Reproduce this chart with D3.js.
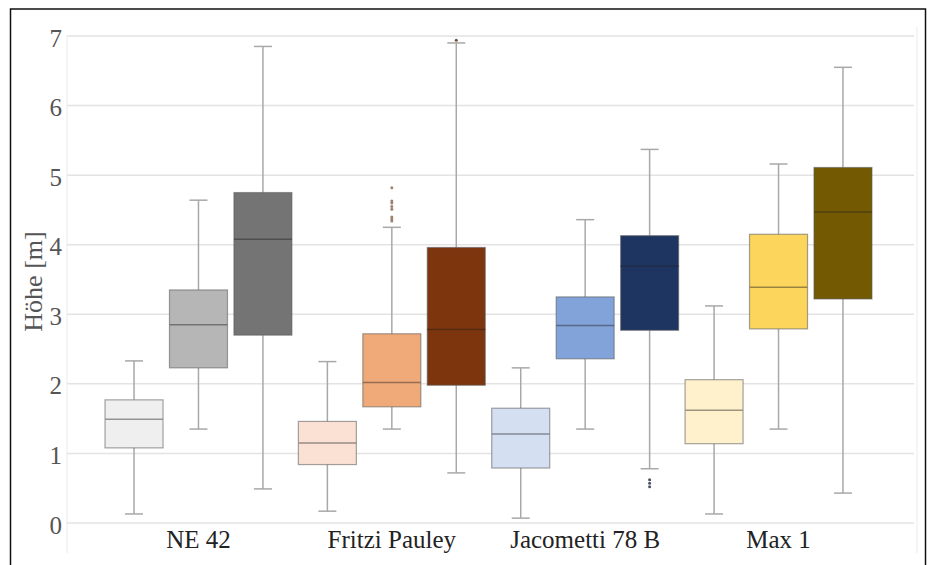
<!DOCTYPE html>
<html>
<head>
<meta charset="utf-8">
<script src="https://cdn.jsdelivr.net/npm/d3@7"></script>
<style>
    body { margin: 0; background: #fff; }
    svg { display: block; font-family: "Liberation Serif", "DejaVu Serif", serif; }
</style>
</head>
<body>
<div id="chart"></div>
<script>
// Data (Höhe in m), one row per group, three boxes per group
const groups = ['NE 42', 'Fritzi Pauley', 'Jacometti 78 B', 'Max 1'];
const series = [0, 1, 2];

const whiskerLow  = [[0.13, 1.35, 0.49], [0.17, 1.35, 0.72], [0.07, 1.35, 0.78], [0.13, 1.35, 0.43]];
const quartile1   = [[1.08, 2.23, 2.70], [0.84, 1.67, 1.98], [0.79, 2.36, 2.77], [1.14, 2.79, 3.22]];
const medians     = [[1.49, 2.85, 4.08], [1.15, 2.02, 2.78], [1.28, 2.84, 3.69], [1.62, 3.39, 4.47]];
const quartile3   = [[1.77, 3.35, 4.75], [1.46, 2.72, 3.96], [1.65, 3.25, 4.13], [2.06, 4.15, 5.11]];
const whiskerHigh = [[2.33, 4.64, 6.85], [2.32, 4.25, 6.90], [2.23, 4.36, 5.37], [3.12, 5.16, 6.55]];

// outliers: [groupIndex, seriesIndex, value]
const outliers = [
    [1, 1, 4.82], [1, 1, 4.63], [1, 1, 4.60], [1, 1, 4.55], [1, 1, 4.51],
    [1, 1, 4.40], [1, 1, 4.37], [1, 1, 4.34],
    [1, 2, 6.94],
    [2, 2, 0.62], [2, 2, 0.57], [2, 2, 0.52]
];

const colors = [
    ['#efefef', '#b6b6b6', '#747474'],
    ['#fae1d4', '#f0aa79', '#7c350d'],
    ['#d4dff1', '#82a3d9', '#1f3561'],
    ['#fff1cb', '#fcd55c', '#735a02']
];

const yTicks = [0, 1, 2, 3, 4, 5, 6, 7];

const width = 928, height = 565;

const svg = d3.select('#chart').append('svg')
    .attr('width', width)
    .attr('height', height);

svg.append('rect')
    .attr('width', width).attr('height', height)
    .attr('fill', '#fff');

// Outer frame (bottom edge runs off the picture)
svg.append('rect')
    .attr('x', 10.5).attr('y', 9)
    .attr('width', 915).attr('height', 600)
    .attr('fill', 'none')
    .attr('stroke', '#111')
    .attr('stroke-width', 1.5);

let plot = { left: 67, right: 914, top: 36, bottom: 523 };

let y = d3.scaleLinear().domain([0, 7]).range([plot.bottom, plot.top]);

let x0 = d3.scaleBand().domain(groups).range([plot.left, 910])
    .paddingInner(0).paddingOuter(0.18);
let x1 = d3.scaleBand().domain(series).range([0, x0.bandwidth()])
    .paddingInner(0.1).paddingOuter(0.05);

// faint panel edges
svg.append('line')
    .attr('x1', plot.left).attr('x2', plot.left)
    .attr('y1', plot.top).attr('y2', 553)
    .attr('stroke', '#eeeeee').attr('stroke-width', 1.2);
svg.append('line')
    .attr('x1', 917).attr('x2', 917)
    .attr('y1', 27).attr('y2', 553)
    .attr('stroke', '#eeeeee').attr('stroke-width', 1.2);

// Gridlines
svg.append('g').attr('class', 'grid')
  .selectAll('line')
    .data(yTicks)
  .enter().append('line')
    .attr('x1', plot.left).attr('x2', plot.right)
    .attr('y1', d => y(d)).attr('y2', d => y(d))
    .attr('stroke', '#e3e3e3')
    .attr('stroke-width', 1.5);

// Y axis
let yAxis = svg.append('g')
    .attr('transform', `translate(${plot.left},0)`)
    .call(d3.axisLeft(y).tickValues(yTicks).tickSize(0).tickPadding(5).tickFormat(d3.format('d')));
yAxis.select('.domain').remove();
yAxis.selectAll('text')
    .attr('dy', '0.4em')
    .style('font-family', '"Liberation Serif", serif')
    .style('font-size', '25px')
    .attr('fill', '#555');

svg.append('text')
    .attr('transform', `translate(42, ${(plot.top + plot.bottom) / 2 + 2}) rotate(-90)`)
    .attr('text-anchor', 'middle')
    .style('font-family', '"Liberation Serif", serif')
    .style('font-size', '26px')
    .attr('fill', '#555')
    .text('Höhe [m]');

// X axis labels
let xAxis = svg.append('g')
    .attr('transform', `translate(0,${plot.bottom})`)
    .call(d3.axisBottom(x0).tickSize(0).tickPadding(7));
xAxis.select('.domain').remove();
xAxis.selectAll('text')
    .style('font-family', '"Liberation Serif", serif')
    .style('font-size', '25px')
    .attr('fill', '#222');

// Flatten box stats for drawing
let boxes = [];
groups.forEach((g, gi) => {
    series.forEach(si => {
        boxes.push({
            group: g, gi: gi, si: si,
            lo: whiskerLow[gi][si], q1: quartile1[gi][si], med: medians[gi][si],
            q3: quartile3[gi][si], hi: whiskerHigh[gi][si],
            fill: colors[gi][si]
        });
    });
});

let bw = x1.bandwidth();
let cx = d => x0(d.group) + x1(d.si) + bw / 2;
let capW = 18;

let boxG = svg.append('g').attr('class', 'boxes')
  .selectAll('g')
    .data(boxes)
  .enter().append('g');

// whisker stems
boxG.append('line')
    .attr('x1', cx).attr('x2', cx)
    .attr('y1', d => y(d.hi)).attr('y2', d => y(d.q3))
    .attr('stroke', '#a8a8a8').attr('stroke-width', 1.5);
boxG.append('line')
    .attr('x1', cx).attr('x2', cx)
    .attr('y1', d => y(d.q1)).attr('y2', d => y(d.lo))
    .attr('stroke', '#a8a8a8').attr('stroke-width', 1.5);

// whisker caps
boxG.append('line')
    .attr('x1', d => cx(d) - capW / 2).attr('x2', d => cx(d) + capW / 2)
    .attr('y1', d => y(d.hi)).attr('y2', d => y(d.hi))
    .attr('stroke', '#a8a8a8').attr('stroke-width', 1.5);
boxG.append('line')
    .attr('x1', d => cx(d) - capW / 2).attr('x2', d => cx(d) + capW / 2)
    .attr('y1', d => y(d.lo)).attr('y2', d => y(d.lo))
    .attr('stroke', '#a8a8a8').attr('stroke-width', 1.5);

// box
boxG.append('rect')
    .attr('x', d => x0(d.group) + x1(d.si))
    .attr('width', bw)
    .attr('y', d => y(d.q3))
    .attr('height', d => y(d.q1) - y(d.q3))
    .attr('fill', d => d.fill)
    .attr('stroke', 'rgba(90,90,90,0.55)')
    .attr('stroke-width', 1.2);

// median
boxG.append('line')
    .attr('x1', d => x0(d.group) + x1(d.si)).attr('x2', d => x0(d.group) + x1(d.si) + bw)
    .attr('y1', d => y(d.med)).attr('y2', d => y(d.med))
    .attr('stroke', d => d3.interpolateRgb(d.fill, '#222')(0.45))
    .attr('stroke-width', 1.5);

// outliers
svg.append('g').attr('class', 'outliers')
  .selectAll('circle')
    .data(outliers)
  .enter().append('circle')
    .attr('cx', d => x0(groups[d[0]]) + x1(d[1]) + bw / 2)
    .attr('cy', d => y(d[2]))
    .attr('r', 1.5)
    .attr('fill', d => d3.interpolateRgb(colors[d[0]][d[1]], '#666')(0.6));
</script>
</body>
</html>
